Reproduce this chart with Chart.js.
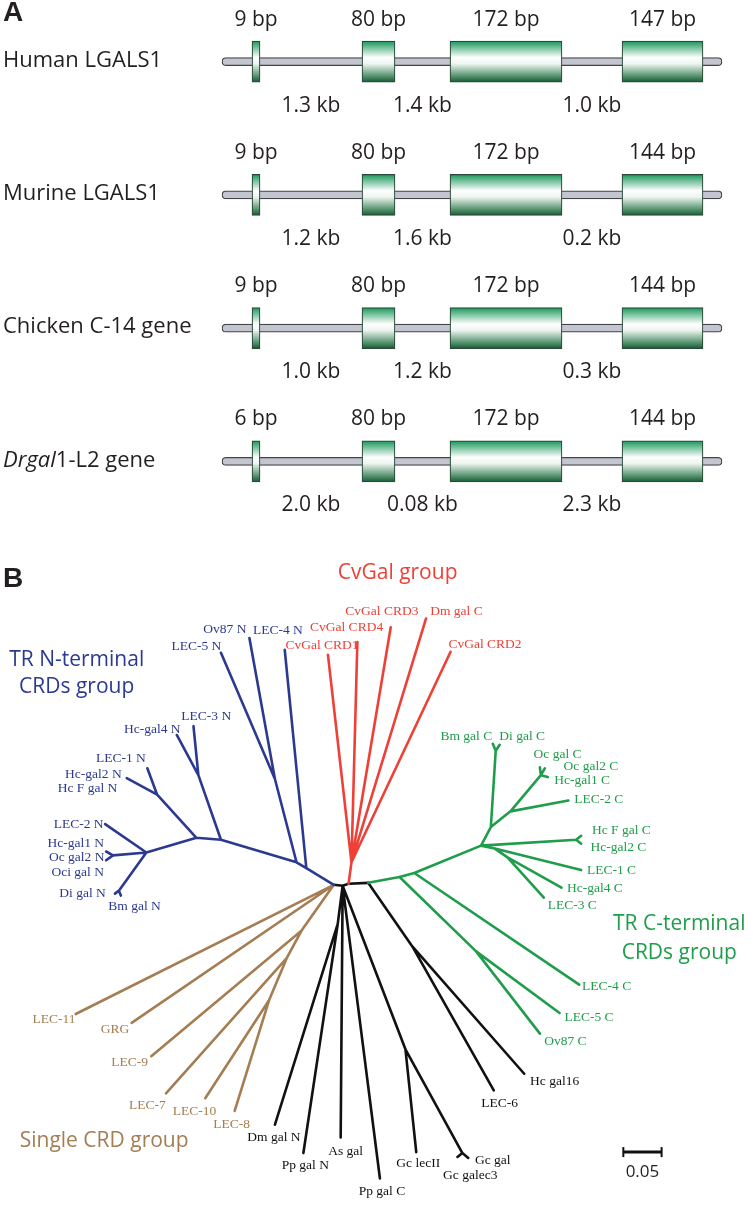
<!DOCTYPE html>
<html>
<head>
<meta charset="utf-8">
<script src="https://cdn.jsdelivr.net/npm/chart.js@4.4.1/dist/chart.umd.min.js"></script>
<style>
  html, body { margin: 0; padding: 0; background: #fff; }
  #page { position: relative; width: 753px; height: 1210px; overflow: hidden; }
  #chartA { position: absolute; left: 0; top: -5px; }
  #chartB { position: absolute; left: 0; top: 540px; }
</style>
</head>
<body>
<div id="page">
  <canvas id="chartA" width="753" height="533"></canvas>
  <canvas id="chartB" width="753" height="670"></canvas>
</div>
<script>
// ---- Panel A: gene structures ----
const genes = ['Human LGALS1', 'Murine LGALS1', 'Chicken C-14 gene', 'Drgal1-L2 gene'];
const italicPart = ['', '', '', 'Drgal'];
const exonBp = [
    [9, 80, 172, 147],
    [9, 80, 172, 144],
    [9, 80, 172, 144],
    [6, 80, 172, 144]
];
const intronKb = [
    ['1.3', '1.4', '1.0'],
    ['1.2', '1.6', '0.2'],
    ['1.0', '1.2', '0.3'],
    ['2.0', '0.08', '2.3']
];
// schematic (not to scale) exon extents
const exonStart = [252, 362, 450, 622];
const exonEnd = [260, 395, 562, 703];
const backbone = [222, 722];

// ---- Panel B: unrooted tree, branches as [x1, y1, x2, y2] ----
const coreBranches = [
    [333, 885, 342, 886], [342, 886, 348, 884], [348, 884, 368, 883]
];
const redBranches = [
    [348, 884, 351, 862],
    [351, 862, 327, 650], [351, 862, 357, 637], [351, 862, 391, 622],
    [351, 862, 427, 613], [351, 862, 452, 647]
];
const blueBranches = [
    [333, 885, 305, 868], [305, 868, 283, 645],
    [305, 868, 295, 862], [295, 862, 273, 777], [273, 777, 218, 648], [273, 777, 247, 633],
    [295, 862, 218, 839], [218, 839, 195, 773], [195, 773, 190, 723], [195, 773, 173, 732],
    [218, 839, 193, 837], [193, 837, 153, 793], [153, 793, 143, 766], [153, 793, 122, 776],
    [193, 837, 142, 852], [142, 852, 100, 823],
    [142, 852, 108, 855], [108, 855, 101, 851], [108, 855, 101, 860],
    [142, 852, 114, 891], [114, 891, 110, 894], [114, 891, 116, 896]
];
const brownBranches = [
    [333, 885, 70, 1017], [333, 885, 127, 1026],
    [333, 885, 300, 932], [300, 932, 147, 1060],
    [300, 932, 285, 960], [285, 960, 162, 1098],
    [285, 960, 267, 1003], [267, 1003, 202, 1103], [267, 1003, 232, 1116]
];
const blackBranches = [
    [342, 886, 337, 925], [337, 925, 273, 1130], [337, 925, 302, 1159],
    [342, 886, 340, 1143], [342, 886, 380, 1185],
    [342, 886, 406, 1053], [406, 1053, 417, 1158],
    [406, 1053, 464, 1159], [464, 1159, 459, 1163], [464, 1159, 470, 1164],
    [368, 883, 413, 948], [413, 948, 527, 1078], [413, 948, 496, 1095]
];
const greenBranches = [
    [368, 883, 400, 877], [400, 877, 478, 953], [478, 953, 563, 1016], [478, 953, 543, 1037],
    [400, 877, 415, 873], [415, 873, 583, 987],
    [415, 873, 483, 845], [483, 845, 493, 826],
    [493, 826, 498, 748], [498, 748, 495, 741], [498, 748, 502, 742],
    [493, 826, 513, 810], [513, 810, 572, 799], [513, 810, 544, 773],
    [544, 773, 543, 765], [544, 773, 548, 766], [544, 773, 551, 775],
    [483, 845, 580, 839], [580, 839, 585, 835], [580, 839, 585, 843],
    [483, 845, 497, 848], [497, 848, 585, 870], [497, 848, 510, 857],
    [510, 857, 565, 888], [510, 857, 547, 898]
];

// leaf labels: [text, x, y]
const redLabels = [
    ['CvGal CRD1', 321, 641], ['CvGal CRD4', 346, 622], ['CvGal CRD3', 382, 606],
    ['Dm gal C', 458, 606], ['CvGal CRD2', 487, 640]
];
const blueLabels = [
    ['Ov87 N', 222, 624], ['LEC-4 N', 276, 625], ['LEC-5 N', 193, 642],
    ['LEC-3 N', 203, 713], ['Hc-gal4 N', 148, 726], ['LEC-1 N', 116, 756],
    ['Hc-gal2 N', 88, 772], ['Hc F gal N', 82, 787], ['LEC-2 N', 73, 823],
    ['Hc-gal1 N', 70, 843], ['Oc gal2 N', 71, 857], ['Oci gal N', 72, 872],
    ['Di gal N', 77, 894], ['Bm gal N', 130, 907]
];
const brownLabels = [
    ['LEC-11', 48, 1023], ['GRG', 110, 1033], ['LEC-9', 125, 1066],
    ['LEC-7', 143, 1110], ['LEC-10', 191, 1117], ['LEC-8', 229, 1130]
];
const blackLabels = [
    ['Dm gal N', 272, 1143], ['Pp gal N', 304, 1172], ['As gal', 345, 1157],
    ['Pp gal C', 382, 1198], ['Gc lecII', 419, 1170], ['Gc gal', 495, 1167],
    ['Gc galec3', 472, 1182], ['Hc gal16', 558, 1086], ['LEC-6', 502, 1108]
];
const greenLabels = [
    ['Bm gal C', 468, 733], ['Di gal C', 525, 734], ['Oc gal C', 561, 752],
    ['Oc gal2 C', 595, 764], ['Hc-gal1 C', 586, 778], ['LEC-2 C', 603, 798],
    ['Hc F gal C', 626, 830], ['Hc-gal2 C', 623, 847], ['LEC-1 C', 616, 870],
    ['Hc-gal4 C', 599, 889], ['LEC-3 C', 576, 906], ['LEC-4 C', 611, 989],
    ['LEC-5 C', 593, 1020], ['Ov87 C', 569, 1045]
];
const groupTitles = [
    ['CvGal group', 398, 567, 'red'],
    ['TR N-terminal', 71, 655, 'blue'], ['CRDs group', 71, 683, 'blue'],
    ['TR C-terminal', 685, 925, 'green'], ['CRDs group', 685, 955, 'green'],
    ['Single CRD group', 99, 1147, 'brown']
];
const scaleBar = [628, 667, 1158];

const colors = {
    red: '#ee4036',
    blue: '#2b3990',
    green: '#1f9d4a',
    brown: '#a47d52',
    black: '#111111'
};

// Panel A chart
function exonFill(context) {
    const chart = context.chart;
    if (!chart.chartArea) return '#2a9d5f';
    const yc = chart.scales.y.getPixelForValue(context.dataIndex);
    const g = chart.ctx.createLinearGradient(0, yc - 20.5, 0, yc + 20.5);
    g.addColorStop(0, '#18975a');
    g.addColorStop(0.4, '#ffffff');
    g.addColorStop(0.55, '#eef5f0');
    g.addColorStop(0.85, '#56946f');
    g.addColorStop(1, '#175a35');
    return g;
}

const geneTexts = {
    id: 'geneTexts',
    afterDatasetsDraw(chart) {
        const { ctx, scales: { x, y } } = chart;
        ctx.save();
        ctx.fillStyle = '#231f20';
        ctx.textBaseline = 'middle';
        ctx.textAlign = 'left';
        ctx.font = 'bold 28px "Liberation Sans"';
        ctx.fillText('A', 3, 18);
        genes.forEach((name, g) => {
            const yc = y.getPixelForValue(g);
            ctx.font = '21px "Open Sans"';
            ctx.textAlign = 'center';
            exonBp[g].forEach((bp, i) => {
                const xc = x.getPixelForValue((exonStart[i] + exonEnd[i]) / 2);
                ctx.fillText(bp + ' bp', xc, yc - 42);
            });
            intronKb[g].forEach((kb, i) => {
                const xc = x.getPixelForValue((exonEnd[i] + exonStart[i + 1]) / 2);
                ctx.fillText(kb + ' kb', xc, yc + 44);
            });
            ctx.textAlign = 'left';
            let xt = 3;
            const it = italicPart[g];
            if (it) {
                ctx.font = 'italic 22px "Open Sans"';
                ctx.fillText(it, xt, yc - 1);
                xt += ctx.measureText(it).width;
            }
            ctx.font = '22px "Open Sans"';
            ctx.fillText(name.slice(it.length), xt, yc - 1);
        });
        ctx.restore();
    }
};

const datasetsA = [{
    label: 'intron',
    data: genes.map(() => backbone),
    backgroundColor: '#c3c6d0',
    borderColor: '#444',
    borderWidth: 1.2,
    borderSkipped: false,
    borderRadius: 4,
    barThickness: 8,
    grouped: false,
    order: 5
}];
exonStart.forEach((s, i) => {
    datasetsA.push({
        label: 'exon ' + (i + 1),
        data: genes.map(() => [exonStart[i], exonEnd[i]]),
        backgroundColor: exonFill,
        borderColor: '#2b4a39',
        borderWidth: 1.2,
        borderSkipped: false,
        barThickness: 41,
        grouped: false,
        order: 1
    });
});

new Chart(document.getElementById('chartA'), {
    type: 'bar',
    data: { labels: genes, datasets: datasetsA },
    options: {
        indexAxis: 'y',
        responsive: false,
        animation: false,
        layout: { padding: 0 },
        plugins: { legend: { display: false }, tooltip: { enabled: false } },
        scales: {
            x: { type: 'linear', min: 0, max: 753, display: false },
            y: { display: false }
        }
    },
    plugins: [geneTexts]
});

// Panel B chart
function segments(branches) {
    const pts = [];
    branches.forEach(b => {
        pts.push({ x: b[0], y: b[1] }, { x: b[2], y: b[3] }, { x: NaN, y: NaN });
    });
    return pts;
}

function treeSet(branches, color) {
    return {
        data: segments(branches),
        borderColor: color,
        borderWidth: 2.6,
        borderCapStyle: 'round',
        borderJoinStyle: 'round',
        showLine: true,
        spanGaps: false,
        pointRadius: 0,
        tension: 0
    };
}

const treeTexts = {
    id: 'treeTexts',
    afterDatasetsDraw(chart) {
        const { ctx, scales: { x, y } } = chart;
        ctx.save();
        ctx.textBaseline = 'middle';
        ctx.textAlign = 'left';
        ctx.fillStyle = '#231f20';
        ctx.font = 'bold 28px "Liberation Sans"';
        ctx.fillText('B', 3, y.getPixelForValue(573));

        ctx.textAlign = 'center';
        ctx.font = '13.5px "Liberation Serif"';
        [[redLabels, colors.red], [blueLabels, colors.blue], [brownLabels, colors.brown],
         [blackLabels, colors.black], [greenLabels, colors.green]].forEach(([list, c]) => {
            ctx.fillStyle = c;
            list.forEach(([t, lx, ly]) => ctx.fillText(t, x.getPixelForValue(lx), y.getPixelForValue(ly)));
        });

        ctx.font = '21px "Open Sans"';
        groupTitles.forEach(([t, lx, ly, c]) => {
            ctx.fillStyle = colors[c];
            ctx.fillText(t, x.getPixelForValue(lx), y.getPixelForValue(ly));
        });

        ctx.fillStyle = '#231f20';
        ctx.font = '17px "Open Sans"';
        ctx.fillText('0.05', x.getPixelForValue((scaleBar[0] + scaleBar[1]) / 2), y.getPixelForValue(scaleBar[2] + 20));
        ctx.restore();
    }
};

new Chart(document.getElementById('chartB'), {
    type: 'scatter',
    data: {
        datasets: [
            treeSet(blueBranches, colors.blue),
            treeSet(brownBranches, colors.brown),
            treeSet(redBranches, colors.red),
            treeSet(greenBranches, colors.green),
            treeSet(blackBranches, colors.black),
            treeSet(coreBranches, colors.black),
            {
                data: [{ x: scaleBar[0], y: scaleBar[2] }, { x: scaleBar[1], y: scaleBar[2] }],
                borderColor: '#111',
                borderWidth: 3,
                showLine: true,
                pointStyle: 'line',
                rotation: 90,
                pointRadius: 5,
                pointBorderWidth: 2,
                pointBorderColor: '#111'
            }
        ]
    },
    options: {
        responsive: false,
        animation: false,
        layout: { padding: 0 },
        plugins: { legend: { display: false }, tooltip: { enabled: false } },
        scales: {
            x: { type: 'linear', min: 0, max: 753, display: false },
            y: { type: 'linear', min: 540, max: 1210, reverse: true, display: false }
        }
    },
    plugins: [treeTexts]
});
</script>
</body>
</html>
